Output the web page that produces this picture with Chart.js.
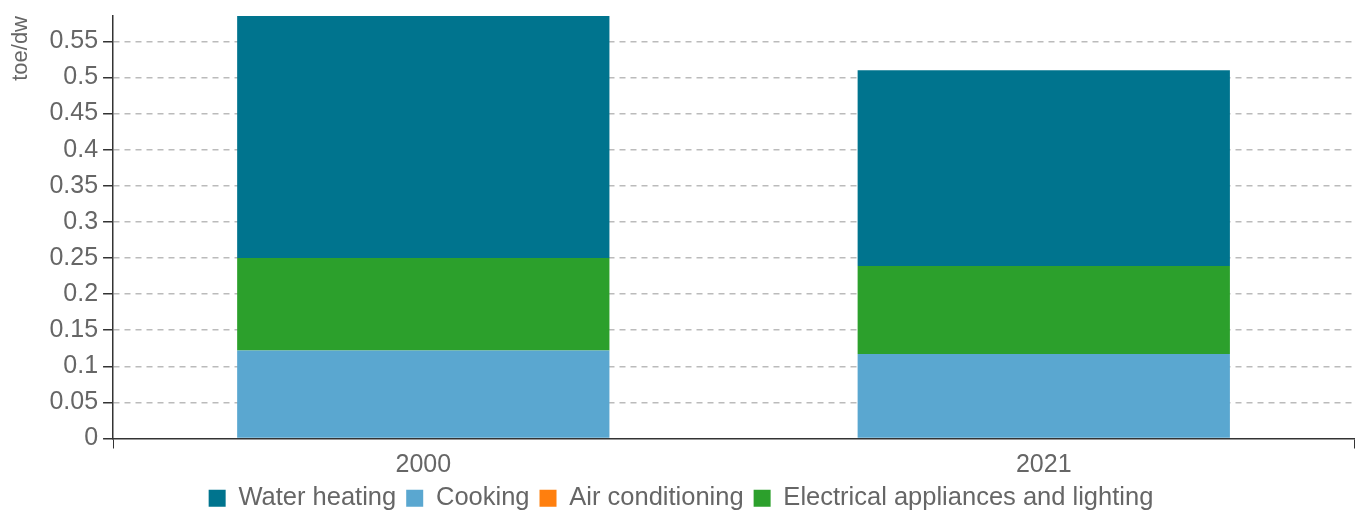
<!DOCTYPE html>
<html>
<head>
<meta charset="utf-8">
<script src="https://cdn.jsdelivr.net/npm/chart.js@4/dist/chart.umd.min.js"></script>
<style>
    body { margin: 0; background: #fff; }
    canvas { display: block; }
</style>
</head>
<body>
<canvas id="graficoConsumo" width="1364" height="514"></canvas>
<script>
// Datos (toe/dw)
const anios = ["2000", "2021"];
const coccion = [0.122, 0.117];
const aireAcondicionado = [0, 0];
const electrodomesticos = [0.128, 0.122];
const aguaCaliente = [0.335, 0.271];
const pasoEje = 0.05;
const ordenLeyenda = ["Water heating", "Cooking", "Air conditioning", "Electrical appliances and lighting"];

const totales = anios.map((_, i) => coccion[i] + aireAcondicionado[i] + electrodomesticos[i] + aguaCaliente[i]);
const maximoEje = Math.max(...totales);

const colorTexto = "#666";
const familia = "'Liberation Sans', Arial, sans-serif";
const fuente = { family: familia, size: 25 };

const ctx = document.getElementById("graficoConsumo").getContext("2d");

new Chart(ctx, {
    type: "bar",
    data: {
        labels: anios,
        datasets: [
            { label: "Cooking", data: coccion, backgroundColor: "#5aa7d0" },
            { label: "Air conditioning", data: aireAcondicionado, backgroundColor: "#ff7f0e" },
            { label: "Electrical appliances and lighting", data: electrodomesticos, backgroundColor: "#2ca02c" },
            { label: "Water heating", data: aguaCaliente, backgroundColor: "#00748e" },
        ],
    },
    options: {
        responsive: false,
        animation: false,
        layout: { padding: { left: 8, right: 10, top: 16, bottom: -7 } },
        datasets: { bar: { barPercentage: 1, categoryPercentage: 0.6 } },
        scales: {
            x: {
                stacked: true,
                // acercar un poco la leyenda a las etiquetas
                afterFit: (eje) => {
                    eje.height -= 6;
                },
                grid: {
                    drawOnChartArea: false,
                    offset: true,
                    tickLength: 10,
                    tickColor: (c) => (c.index === 1 ? "rgba(0,0,0,0)" : "#333"),
                },
                border: { color: "#333", width: 1.5 },
                ticks: { color: colorTexto, font: { family: familia, size: 25, lineHeight: 1 }, padding: 4 },
            },
            y: {
                stacked: true,
                min: 0,
                max: maximoEje,
                afterFit: (eje) => {
                    eje.paddingTop = 0;
                },
                grid: {
                    color: (c) => (c.tick && c.tick.value === 0 ? "rgba(0,0,0,0)" : "#bbb"),
                    tickColor: "#333",
                    tickLength: 10,
                    lineWidth: 1.5,
                    tickWidth: 1.5,
                },
                border: { color: "#333", width: 1.5, dash: [6, 5] },
                ticks: {
                    stepSize: pasoEje,
                    includeBounds: false,
                    color: colorTexto,
                    font: fuente,
                    padding: 5,
                    callback: (v) => String(Number(v.toFixed(2))),
                },
                title: {
                    display: true,
                    text: "toe/dw",
                    align: "end",
                    color: colorTexto,
                    font: { family: familia, size: 22 },
                    padding: { top: 0, bottom: 10 },
                },
            },
        },
        plugins: {
            legend: {
                position: "bottom",
                labels: {
                    color: colorTexto,
                    font: { family: familia, size: 25.5 },
                    boxWidth: 17,
                    boxHeight: 17,
                    padding: 10,
                    sort: (a, b) => ordenLeyenda.indexOf(a.text) - ordenLeyenda.indexOf(b.text),
                },
            },
            tooltip: { enabled: false },
        },
    },
});
</script>
</body>
</html>
